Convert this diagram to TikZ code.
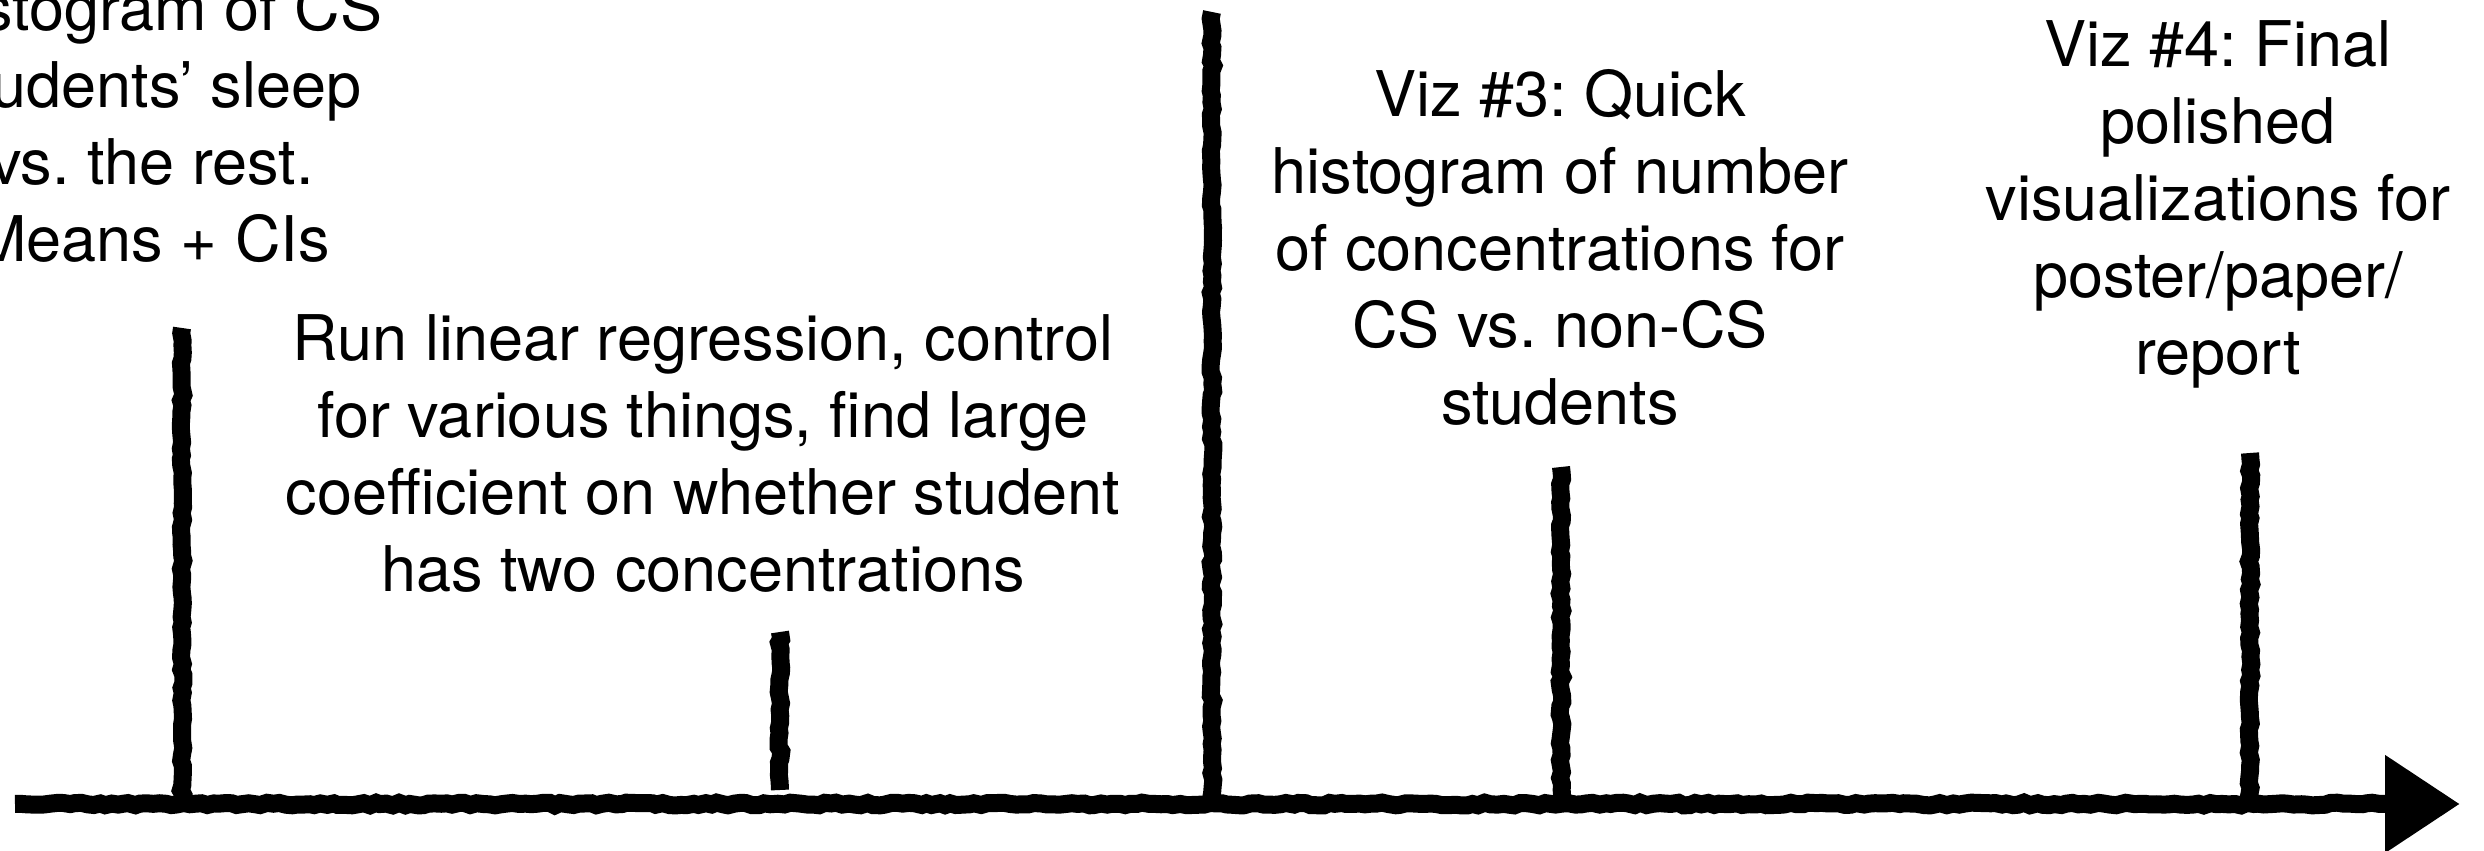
\documentclass[tikz,border=0pt]{standalone}
\usepackage{fontspec}
\setmainfont{TeX Gyre Heros}
\usetikzlibrary{arrows.meta,decorations.pathmorphing}

\tikzset{
  chalk/.style={line width=9pt, line cap=butt, decorate,
    decoration={random steps, segment length=3pt, amplitude=0.7pt}},
  axisline/.style={chalk, decoration={random steps, segment length=3pt,
    amplitude=0.7pt, post length=40pt},
    -{Triangle[length=37.5pt,width=46.5pt]}},
  % anchor base sits on the last line
  note/.style={align=center, inner sep=0pt, anchor=base,
    font=\fontsize{31.5}{38.5}\selectfont\frenchspacing},
}

\begin{document}
\begin{tikzpicture}[x=0.5pt,y=0.5pt]
\pgfmathsetseed{11}
\useasboundingbox (0,0) rectangle (2484,851);
\clip (0,0) rectangle (2484,851);

% Time axis
  \coordinate (start) at (15,47);
  \coordinate (tip)   at (2460,47);
  \draw[axisline] (start) -- (tip);

% Divider
  \coordinate (divtop) at (1212,839);
  \coordinate (divbot) at (1212,43);
  \draw[chalk] (divtop) -- (divbot);

% Ticks
  \coordinate (tickA) at (182,523);   \coordinate (baseA) at (182,40);
  \coordinate (tickB) at (780,219);   \coordinate (baseB) at (780,61);
  \coordinate (tickC) at (1561,384);  \coordinate (baseC) at (1561,42);
  \coordinate (tickD) at (2250,398);  \coordinate (baseD) at (2250,44);
  \draw[chalk] (tickA) -- (baseA);
  \draw[chalk] (tickB) -- (baseB);
  \draw[chalk] (tickC) -- (baseC);
  \draw[chalk] (tickD) -- (baseD);

% Notes
  \node[note] (sleepviz) at (152,589)
    {Histogram of CS\\students’ sleep\\vs. the rest.\\Means + CIs};
  \node[note] (regress) at (703,259)
    {Run linear regression, control\\for various things, find large\\coefficient on whether student\\has two concentrations};
  \node[note] (concviz) at (1560,426)
    {Viz \#3: Quick\\histogram of number\\of concentrations for\\CS vs. non-CS\\students};
  \node[note] (finalviz) at (2218,476)
    {Viz \#4: Final\\polished\\visualizations for\\poster/paper/\\report};

\end{tikzpicture}
\end{document}
